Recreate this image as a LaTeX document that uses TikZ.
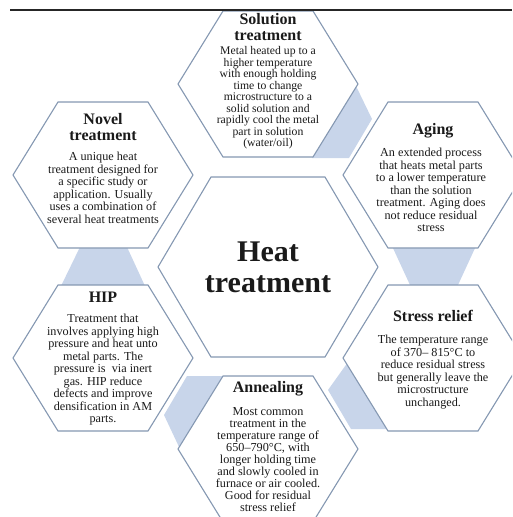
\documentclass[tikz,border=0pt]{standalone}
\usepackage{fontspec}
\setmainfont{Liberation Serif}
\usetikzlibrary{calc}
\definecolor{hexline}{HTML}{8598B2}
\definecolor{linkblue}{HTML}{C8D5EA}
\definecolor{txt}{HTML}{1A1A1A}
\tikzset{
  hexborder/.style={draw=hexline, line width=1.1pt, fill=white, line join=miter},
  linkshape/.style={fill=linkblue, draw=none},
  ttl/.style={font=\fontsize{16}{15.5}\selectfont\bfseries, text=txt, align=center, inner sep=0pt},
  bodytxt/.style={font=\fontsize{12.2}{12.5}\selectfont, text=txt, align=center, inner sep=0pt},
  smallbody/.style={font=\fontsize{11.7}{11.5}\selectfont, text=txt, align=center, inner sep=0pt},
  tightbody/.style={font=\fontsize{12.2}{12.1}\selectfont, text=txt, align=center, inner sep=0pt},
  bigttl/.style={font=\fontsize{30}{31}\selectfont\bfseries, text=txt, align=center, inner sep=0pt},
}
\newcommand\hexagonat[4]{%
  \path[hexborder] ($(#1)+(-#2,0)$) -- ($(#1)+(-#3,-#4)$) -- ($(#1)+(#3,-#4)$) -- ($(#1)+(#2,0)$) -- ($(#1)+(#3,#4)$) -- ($(#1)+(-#3,#4)$) -- cycle;}
\begin{document}
\begin{tikzpicture}[x=1pt,y=-1pt]
\useasboundingbox (0,0) rectangle (512,517);
\clip (0,0) rectangle (512,517);
% centres
\coordinate (S) at (268,84);
\coordinate (N) at (103,175);
\coordinate (A) at (433,175);
\coordinate (C) at (268,267);
\coordinate (H) at (103,358);
\coordinate (R) at (433,358);
\coordinate (An) at (268,449);
% links
\path[linkshape] (356,86) -- (312,158) -- (349,158) -- (372,119) -- cycle;
\path[linkshape] (392,246) -- (476,246) -- (458,285) -- (410,285) -- cycle;
\path[linkshape] (348,362) -- (328,390) -- (351,429) -- (390,429) -- cycle;
\path[linkshape] (187,376) -- (225,376) -- (180,449) -- (164,415) -- cycle;
\path[linkshape] (80,247) -- (127,247) -- (145,286) -- (61,286) -- cycle;
% hexagons
\hexagonat{S}{90}{45}{73}
\hexagonat{N}{90}{45}{73}
\hexagonat{A}{90}{45}{73}
\hexagonat{H}{90}{45}{73}
\hexagonat{R}{90}{45}{73}
\hexagonat{An}{90}{45}{73}
\hexagonat{C}{110}{57}{90}
% texts
\node[ttl] (S-title) at (268,27) {Solution\\treatment};
\node[smallbody] (S-body) at (268,98) {Metal heated up to a\\higher temperature\\with enough holding\\time to change\\microstructure to a\\solid solution and\\rapidly cool the metal\\part in solution\\(water/oil)};
\node[ttl] (N-title) at (103,127) {Novel\\treatment};
\node[bodytxt] (N-body) at (103,188) {A unique heat\\treatment designed for\\a specific study or\\application. Usually\\uses a combination of\\several heat treatments};
\node[ttl] (A-title) at (433,131) {Aging};
\node[bodytxt] (A-body) at (431,190) {An extended process\\that heats metal parts\\to a lower temperature\\than the solution\\treatment. Aging does\\not reduce residual\\stress};
\node[bigttl] (C-title) at (268,267) {Heat\\treatment};
\node[ttl] (H-title) at (103,297) {HIP};
\node[bodytxt] (H-body) at (103,370) {Treatment that\\involves applying high\\pressure and heat unto\\metal parts. The\\pressure is \ via inert\\gas. HIP reduce\\defects and improve\\densification in AM\\parts.};
\node[ttl] (R-title) at (433,316) {Stress relief};
\node[bodytxt] (R-body) at (433,372) {The temperature range\\of 370– 815°C to\\reduce residual stress\\but generally leave the\\microstructure\\unchanged.};
\node[ttl] (An-title) at (268,389) {Annealing};
\node[tightbody] (An-body) at (268,459.5) {Most common\\treatment in the\\temperature range of\\650–790°C, with\\longer holding time\\and slowly cooled in\\furnace or air cooled.\\Good for residual\\stress relief};
% top rule
\coordinate (rule-l) at (10,10);
\coordinate (rule-r) at (512,10);
\draw[line width=1.3pt, black!85] (rule-l) -- (rule-r);
\end{tikzpicture}
\end{document}
